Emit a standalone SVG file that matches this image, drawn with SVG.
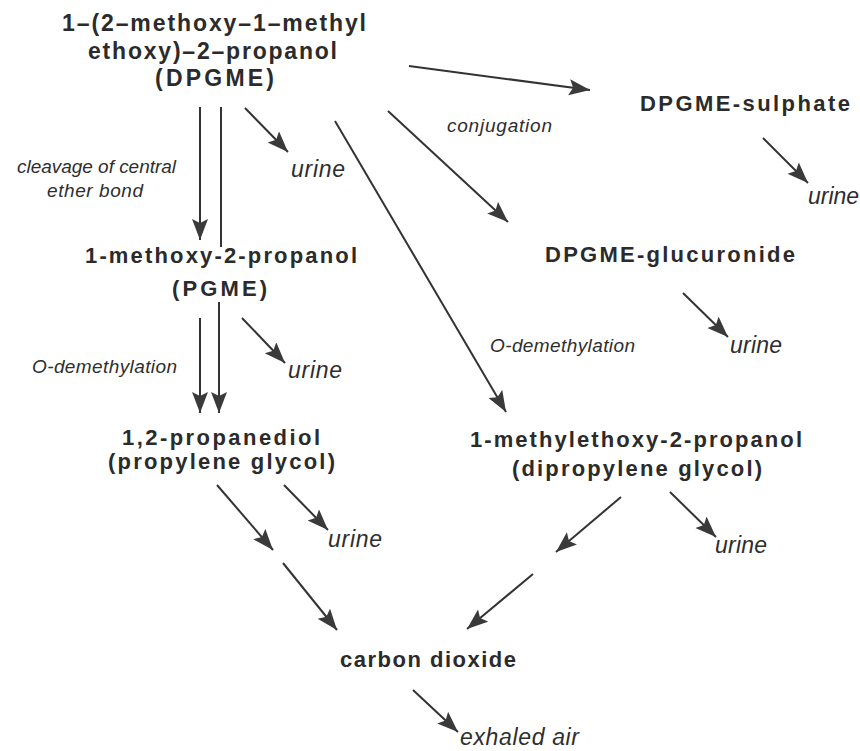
<svg xmlns="http://www.w3.org/2000/svg" width="860" height="751" viewBox="0 0 860 751">
<defs>
<marker id="ah" markerUnits="userSpaceOnUse" markerWidth="24" markerHeight="18" refX="21" refY="8" orient="auto">
<path d="M0,0 L21,8 L0,16 L4,8 z" fill="#3a3a3a"/>
</marker>
<style>
.n{font-family:"Liberation Sans",Arial,sans-serif;font-weight:bold;font-size:22px;fill:#2b2b2b}
.t{font-size:23px}
.l{font-family:"Liberation Sans",Arial,sans-serif;font-style:italic;font-size:19px;fill:#2e2e2e}
.u{font-family:"Liberation Sans",Arial,sans-serif;font-style:italic;font-size:23px;fill:#2e2e2e}
.c line{stroke:#333;stroke-width:2}
.a{marker-end:url(#ah)}
</style>
</defs>
<rect width="860" height="751" fill="#fff"/>
<g id="dpgme">
<text class="n t" x="62" y="31" textLength="304" lengthAdjust="spacing">1–(2–methoxy–1–methyl</text>
<text class="n t" x="88" y="59" textLength="249" lengthAdjust="spacing">ethoxy)–2–propanol</text>
<text class="n t" x="155" y="86" textLength="119" lengthAdjust="spacing">(DPGME)</text>
</g>
<g id="sulphate"><text class="n" x="640" y="111" textLength="210" lengthAdjust="spacing">DPGME-sulphate</text></g>
<g id="glucuronide"><text class="n" x="545" y="262" textLength="250" lengthAdjust="spacing">DPGME-glucuronide</text></g>
<g id="pgme">
<text class="n" x="85" y="263" textLength="272" lengthAdjust="spacing">1-methoxy-2-propanol</text>
<text class="n" x="172" y="296" textLength="95" lengthAdjust="spacing">(PGME)</text>
</g>
<g id="propyleneglycol">
<text class="n" x="122" y="445" textLength="198" lengthAdjust="spacing">1,2-propanediol</text>
<text class="n" x="108" y="469" textLength="227" lengthAdjust="spacing">(propylene glycol)</text>
</g>
<g id="dipropyleneglycol">
<text class="n" x="470" y="447" textLength="332" lengthAdjust="spacing">1-methylethoxy-2-propanol</text>
<text class="n" x="512" y="476" textLength="250" lengthAdjust="spacing">(dipropylene glycol)</text>
</g>
<g id="co2"><text class="n" x="340" y="667" textLength="176" lengthAdjust="spacing">carbon dioxide</text></g>
<g id="urine1"><text class="u" x="291" y="177" textLength="54" lengthAdjust="spacing">urine</text></g>
<g id="urine2"><text class="u" x="808" y="204" textLength="51" lengthAdjust="spacing">urine</text></g>
<g id="urine3"><text class="u" x="730" y="353" textLength="52" lengthAdjust="spacing">urine</text></g>
<g id="urine4"><text class="u" x="288" y="378" textLength="54" lengthAdjust="spacing">urine</text></g>
<g id="urine5"><text class="u" x="328" y="547" textLength="54" lengthAdjust="spacing">urine</text></g>
<g id="urine6"><text class="u" x="715" y="553" textLength="52" lengthAdjust="spacing">urine</text></g>
<g id="exhaled"><text class="u" x="460" y="745" textLength="119" lengthAdjust="spacing">exhaled air</text></g>
<g id="labels">
<text class="l" x="17" y="173" textLength="159" lengthAdjust="spacing">cleavage of central</text>
<text class="l" x="47" y="197" textLength="96" lengthAdjust="spacing">ether bond</text>
<text class="l" x="447" y="132" textLength="105" lengthAdjust="spacing">conjugation</text>
<text class="l" x="490" y="352" textLength="145" lengthAdjust="spacing">O-demethylation</text>
<text class="l" x="32" y="373" textLength="145" lengthAdjust="spacing">O-demethylation</text>
</g>
<g id="connectors" class="c">
<line class="a" x1="200" y1="107" x2="200" y2="240"/>
<line x1="221" y1="107" x2="221" y2="247"/>
<line class="a" x1="245" y1="108" x2="288" y2="152"/>
<line class="a" x1="409" y1="66" x2="590" y2="90"/>
<line class="a" x1="388" y1="111" x2="508" y2="222"/>
<line class="a" x1="335" y1="121" x2="506" y2="412"/>
<line class="a" x1="763" y1="138" x2="808" y2="183"/>
<line class="a" x1="683" y1="293" x2="728" y2="337"/>
<line class="a" x1="200" y1="318" x2="200" y2="413"/>
<line class="a" x1="219" y1="302" x2="219" y2="413"/>
<line class="a" x1="242" y1="318" x2="285" y2="363"/>
<line class="a" x1="284" y1="485" x2="328" y2="530"/>
<line class="a" x1="217" y1="485" x2="273" y2="550"/>
<line class="a" x1="283" y1="563" x2="337" y2="630"/>
<line class="a" x1="621" y1="497" x2="556" y2="552"/>
<line class="a" x1="670" y1="492" x2="716" y2="537"/>
<line class="a" x1="533" y1="574" x2="467" y2="629"/>
<line class="a" x1="413" y1="690" x2="458" y2="732"/>
</g>
</svg>
